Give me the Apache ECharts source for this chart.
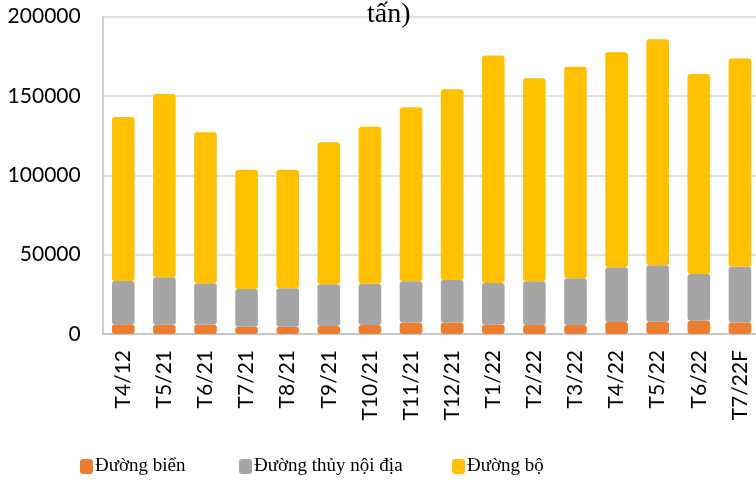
<!DOCTYPE html>
<html>
<head>
<meta charset="utf-8">
<script src="https://cdn.jsdelivr.net/npm/echarts@6/dist/echarts.min.js"></script>
<style>html,body{margin:0;padding:0;background:#fff}#c{width:756px;height:483px}</style>
</head>
<body>
<div id="c"></div>
<script>
const categories = ["T4/12","T5/21","T6/21","T7/21","T8/21","T9/21","T10/21","T11/21","T12/21","T1/22","T2/22","T3/22","T4/22","T5/22","T6/22","T7/22F"];
const seaValues = [6200,5800,6000,4600,4600,5000,5600,7200,7200,6000,5600,5600,7600,7800,8400,7300];
const inlandValues = [27200,29900,26000,23800,24200,26300,26100,26000,26800,26200,27600,29500,34400,35500,29400,35100];
const roadValues = [103400,115600,95200,75200,74800,89600,99000,109700,120300,143300,128000,133400,135600,142500,126100,131200];
const seriesNames = ["Đường biển","Đường thủy nội địa","Đường bộ"];
const titleText = "tấn)";

const chart = echarts.init(document.getElementById('c'));
const colors = ['#ED7D31','#A5A5A5','#FFC000'];
const legendLefts = [80, 239, 452];
const mk = (name, data, color) => ({
  name, type: 'bar', stack: 'total', data, barWidth: '55%',
  itemStyle: { color, borderRadius: 3 },
  emphasis: { disabled: true }
});
chart.setOption({
  animation: false,
  title: {
    text: titleText, left: 362, top: -4,
    textStyle: { fontFamily: 'Liberation Serif', fontSize: 28, fontWeight: 'normal', color: '#000' }
  },
  legend: seriesNames.map((n, i) => ({
    data: [n], left: legendLefts[i], top: 457, padding: 0, itemWidth: 13, itemHeight: 15,
    icon: 'roundRect',
    textStyle: { fontFamily: 'Liberation Serif', fontSize: 19, color: '#000', padding: [0,0,0,-3] }
  })),
  grid: { left: 102.7, top: 16.7, bottom: 149, right: -4.5, containLabel: false, outerBoundsMode: 'none' },
  xAxis: {
    type: 'category', data: categories,
    axisLine: { lineStyle: { color: '#bfbfbf', width: 1.5 } },
    axisTick: { show: false },
    axisLabel: { rotate: 90, margin: 16, fontFamily: 'Lato', fontSize: 21, color: '#000' }
  },
  yAxis: {
    type: 'value', min: 0, max: 200000, interval: 50000,
    axisLine: { show: true, lineStyle: { color: '#bfbfbf', width: 1.5 } },
    splitLine: { lineStyle: { color: '#d9d9d9', width: 1.5 } },
    axisLabel: { margin: 22, fontFamily: 'Lato', fontSize: 21, color: '#000', formatter: v => String(v) }
  },
  series: [
    mk(seriesNames[0], seaValues, colors[0]),
    mk(seriesNames[1], inlandValues, colors[1]),
    mk(seriesNames[2], roadValues, colors[2])
  ]
});
</script>
</body>
</html>
